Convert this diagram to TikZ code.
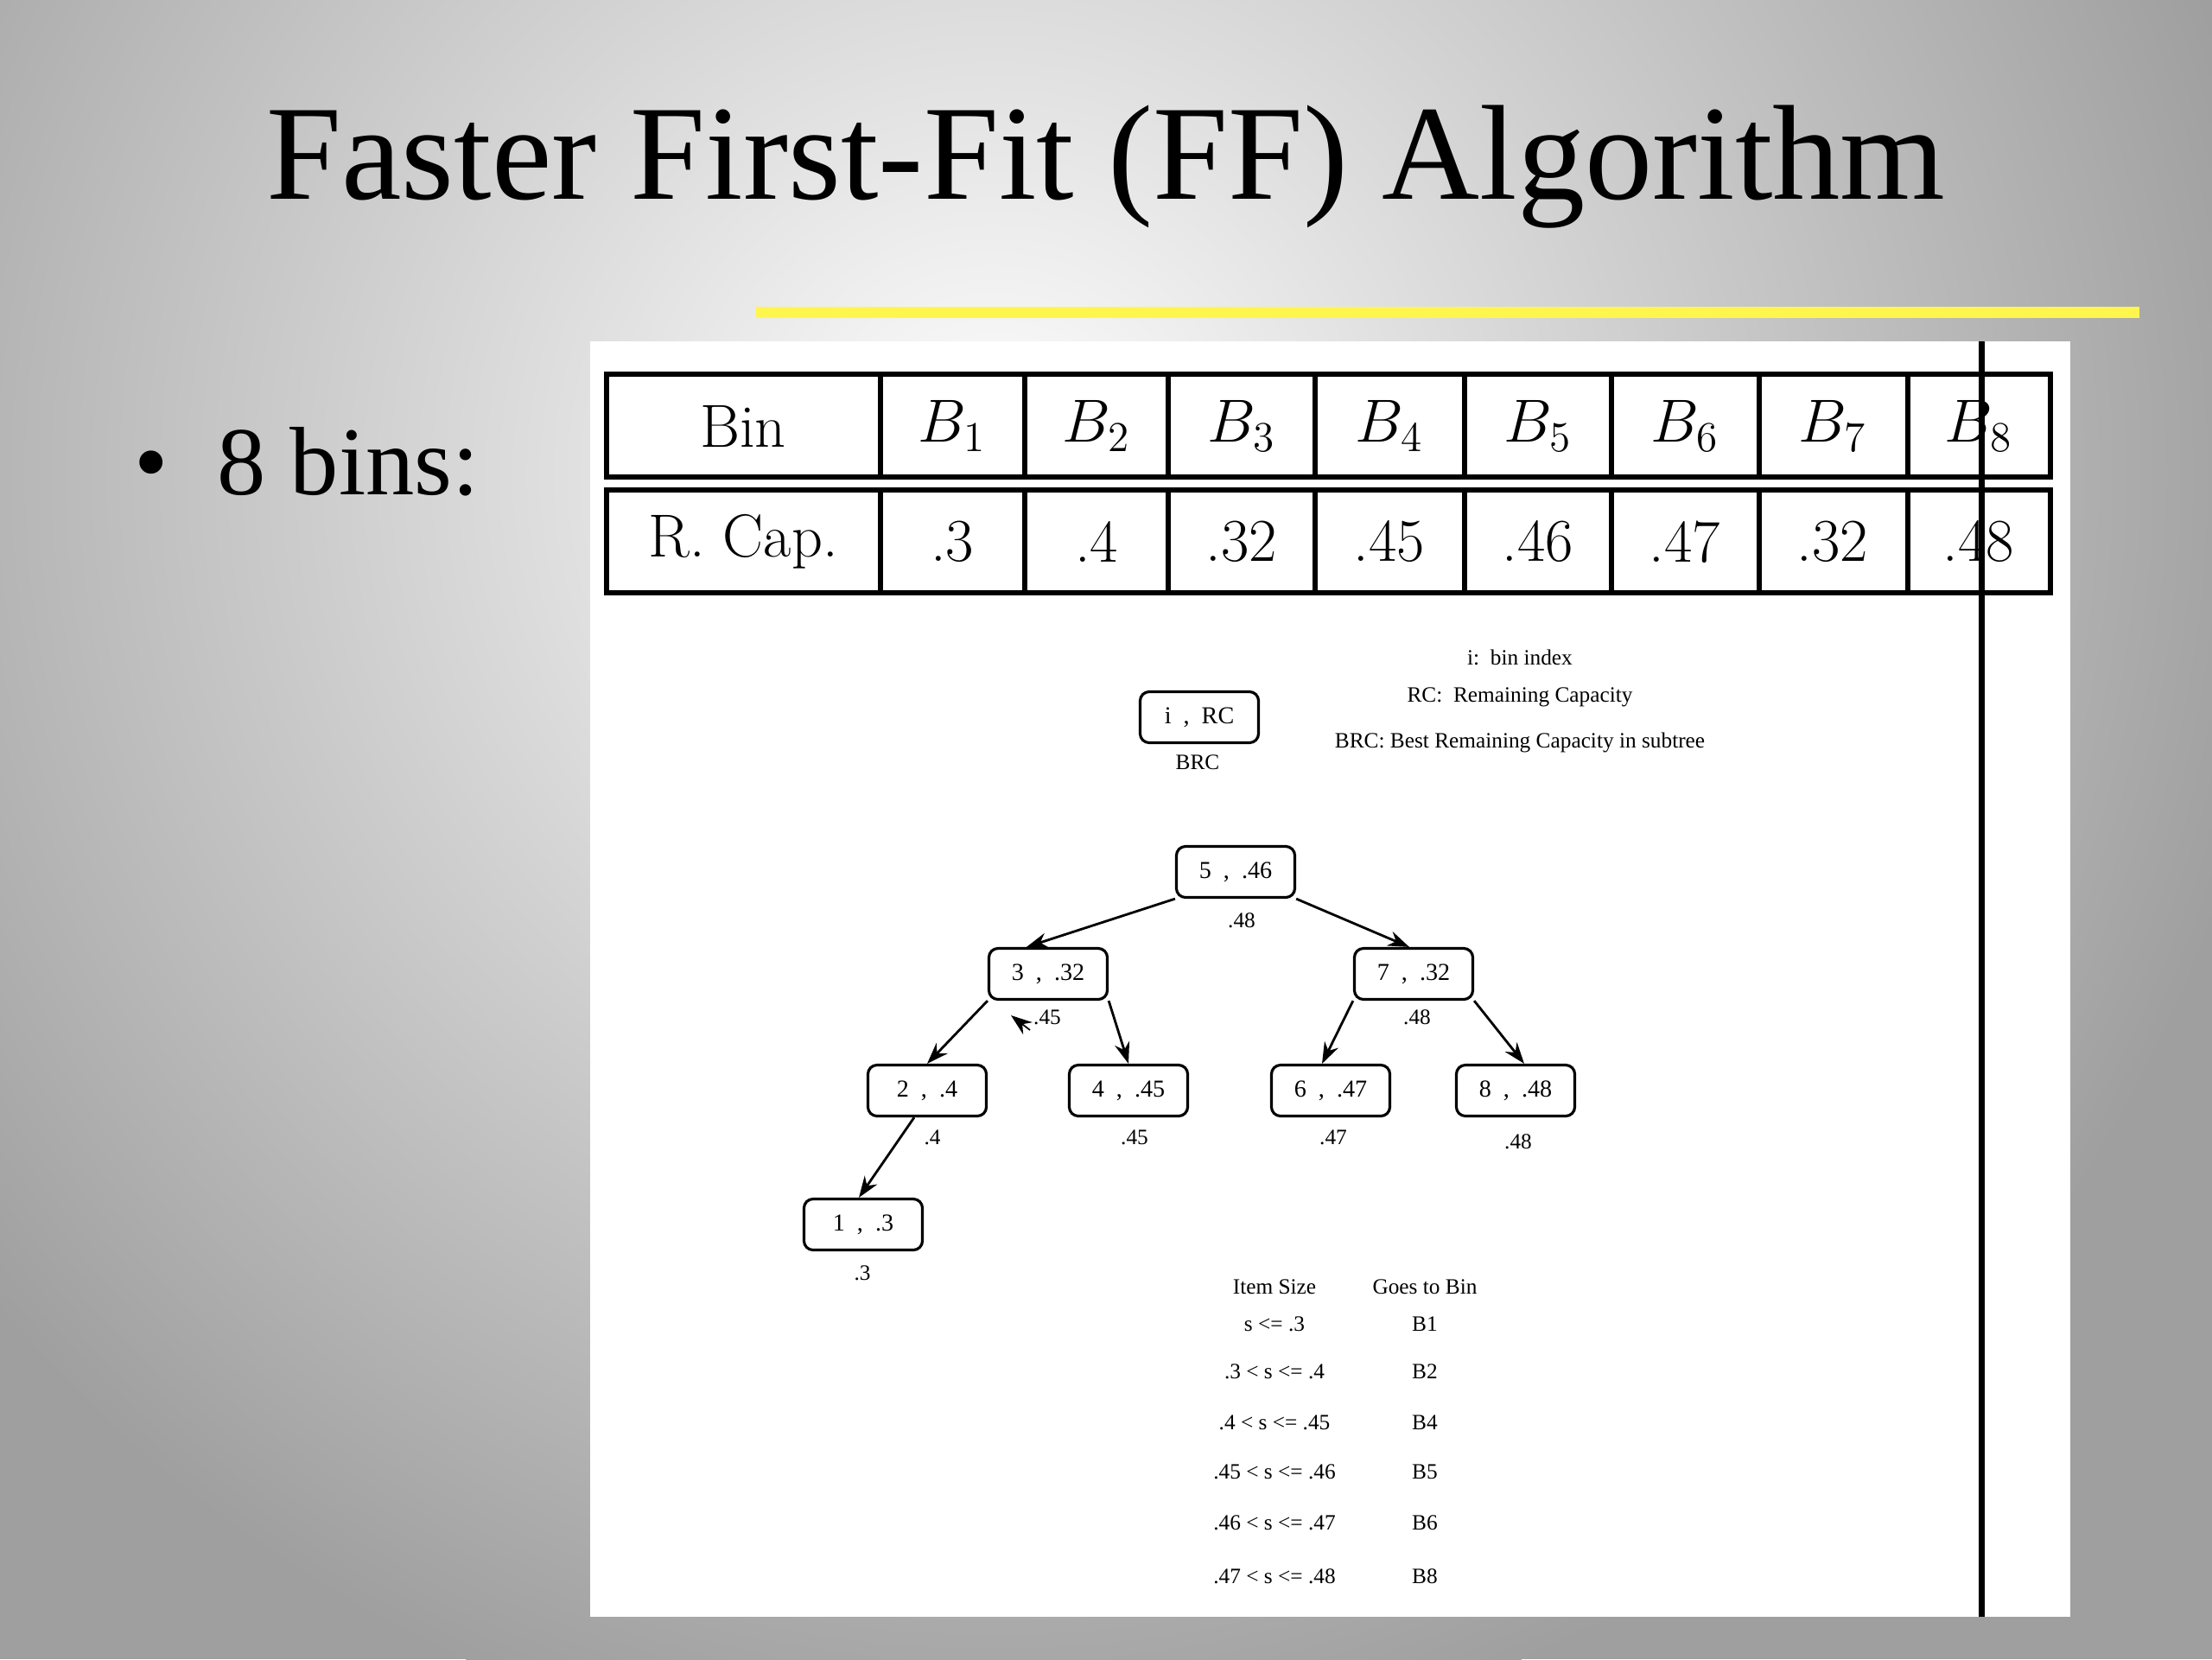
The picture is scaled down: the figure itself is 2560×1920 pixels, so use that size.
\documentclass[tikz,border=0pt]{standalone}
\usepackage{fix-cm}
\usepackage{fontspec}
\newfontfamily\tnr{Liberation Serif}
\usetikzlibrary{arrows.meta}
\begin{document}
\begin{tikzpicture}[x=0.01cm,y=-0.01cm,
  tn/.style={draw,rounded corners=3pt,line width=0.9pt,minimum width=1.37cm,minimum height=0.59cm,inner sep=0pt,font=\tnr\fontsize{8}{10}\selectfont},
  lab/.style={font=\tnr\fontsize{7.2}{9}\selectfont,inner sep=0pt},
  edge/.style={-{Stealth[length=7pt,width=5pt]},line width=0.8pt},
  tab/.style={font=\fontsize{20}{24}\selectfont,inner sep=0pt}]
\useasboundingbox (0,0) rectangle (2560,1920);
\begin{scope}
\clip (0,0) rectangle (2560,1920);
\fill[gray!75] (0,0) rectangle (2560,1920);
\shade[inner color=white,outer color=gray!75] (1150,550) circle (1500);
\end{scope}
% title
\node[font=\tnr\fontsize{44.5}{52}\selectfont,inner sep=0pt] (title) at (1280,193) {Faster First-Fit (FF) Algorithm};
\fill[yellow!70!white] (875,355) rectangle (2476,368);
\node[font=\tnr\fontsize{32}{36}\selectfont,anchor=west,inner sep=0pt] (bul) at (155,534) {\textbullet\ \ 8 bins:};
% panel
\fill[white] (683,395) rectangle (2396,1871);
% table
\foreach \x/\y in {702/1019,1019/1186,1186/1352,1352/1522,1522/1695,1695/1865,1865/2036,2036/2208,2208/2373}{
  \draw[line width=1.6pt] (\x,433) rectangle (\y,552);
  \draw[line width=1.6pt] (\x,567) rectangle (\y,686);
}
\node[tab] (h0) at (860,493) {Bin};
\node[tab] (h1) at (1102,493) {$B_1$};
\node[tab] (h2) at (1269,493) {$B_2$};
\node[tab] (h3) at (1437,493) {$B_3$};
\node[tab] (h4) at (1608,493) {$B_4$};
\node[tab] (h5) at (1780,493) {$B_5$};
\node[tab] (h6) at (1950,493) {$B_6$};
\node[tab] (h7) at (2121,493) {$B_7$};
\node[tab] (h8) at (2290,493) {$B_8$};
\node[tab] (r0) at (860,627) {R. Cap.};
\node[tab] (r1) at (1102,627) {.3};
\node[tab] (r2) at (1269,627) {.4};
\node[tab] (r3) at (1437,627) {.32};
\node[tab] (r4) at (1608,627) {.45};
\node[tab] (r5) at (1780,627) {.46};
\node[tab] (r6) at (1950,627) {.47};
\node[tab] (r7) at (2121,627) {.32};
\node[tab] (r8) at (2290,627) {.48};
\fill[black] (2290,395) rectangle (2297,1871);
% legend
\node[tn] (leg) at (1388,830) {i \ , \ RC};
\node[lab] (legb) at (1386,882) {BRC};
\node[lab] (l1) at (1759,761) {i:\ \ bin index};
\node[lab] (l2) at (1759,807) {RC:\ \ Remaining Capacity};
\node[lab] (l3) at (1759,859) {BRC: Best Remaining Capacity in subtree};
% tree
\node[tn] (n5) at (1430,1009) {5 \ , \ .46};
\node[lab] (b5) at (1437,1065) {.48};
\node[tn] (n3) at (1213,1127) {3 \ , \ .32};
\node[lab] (b3) at (1212,1177) {.45};
\node[tn] (n7) at (1636,1127) {7 \ , \ .32};
\node[lab] (b7) at (1640,1177) {.48};
\node[tn] (n2) at (1073,1262) {2 \ , \ .4};
\node[lab] (b2) at (1079,1316) {.4};
\node[tn] (n4) at (1306,1262) {4 \ , \ .45};
\node[lab] (b4) at (1313,1316) {.45};
\node[tn] (n6) at (1540,1262) {6 \ , \ .47};
\node[lab] (b6) at (1543,1316) {.47};
\node[tn] (n8) at (1754,1262) {8 \ , \ .48};
\node[lab] (b8) at (1757,1321) {.48};
\node[tn] (n1) at (999,1417) {1 \ , \ .3};
\node[lab] (b1) at (998,1473) {.3};
\draw[edge] (n5.south west) -- ([xshift=-0.25cm]n3.north);
\draw[edge] (n5.south east) -- ([xshift=-0.05cm]n7.north);
\draw[edge] (n3.south west) -- (n2.north);
\draw[edge] (n3.south east) -- (n4.north);
\draw[edge] (n7.south west) -- ([xshift=-0.1cm]n6.north);
\draw[edge] (n7.south east) -- ([xshift=0.1cm]n8.north);
\draw[edge] ([xshift=-0.15cm]n2.south) -- ([xshift=-0.05cm]n1.north);
\coordinate (ta) at (1192,1192);
\coordinate (tb) at (1170,1175);
\draw[-{Stealth[length=7pt,width=5pt]},line width=0.5pt] (ta) -- (tb);
% lookup table
\node[lab] (c1) at (1475,1489) {Item Size};
\node[lab] (c2) at (1649,1489) {Goes to Bin};
\foreach \n/\y/\a/\b in {1/1532/{s <= .3}/B1,2/1587/{.3 < s <= .4}/B2,3/1646/{.4 < s <= .45}/B4,4/1703/{.45 < s <= .46}/B5,5/1762/{.46 < s <= .47}/B6,6/1824/{.47 < s <= .48}/B8}{
  \node[lab] (s\n) at (1475,\y) {\a};
  \node[lab] (g\n) at (1649,\y) {\b};
}
\end{tikzpicture}
\end{document}
